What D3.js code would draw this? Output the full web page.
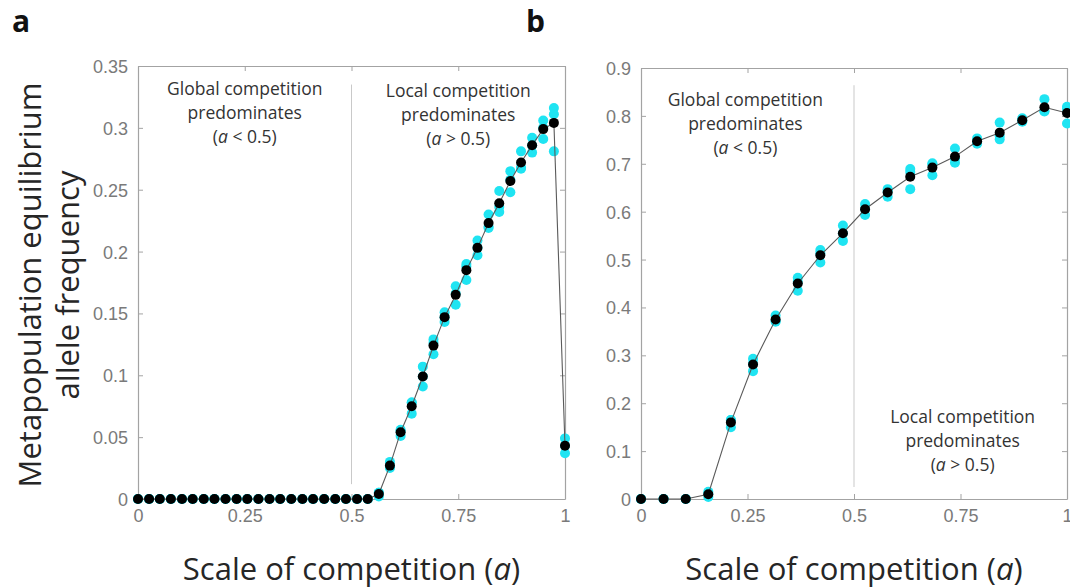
<!DOCTYPE html>
<html>
<head>
<meta charset="utf-8">
<script src="https://cdn.jsdelivr.net/npm/d3@7"></script>
<style>
  html, body { margin: 0; padding: 0; background: #fff; }
  svg { display: block; }
</style>
</head>
<body>
<svg id="fig" width="1070" height="588"></svg>
<script>
// ---- Panel a: 40 values of the competition scale ----
const aScale = [0, 0.026, 0.051, 0.077, 0.103, 0.128, 0.154, 0.179, 0.205, 0.231,
  0.256, 0.282, 0.308, 0.333, 0.359, 0.385, 0.410, 0.436, 0.462, 0.487,
  0.513, 0.538, 0.564, 0.590, 0.615, 0.641, 0.667, 0.692, 0.718, 0.744,
  0.769, 0.795, 0.821, 0.846, 0.872, 0.897, 0.923, 0.949, 0.974, 1];
const aMean = [0, 0, 0, 0, 0, 0, 0, 0, 0, 0, 0, 0, 0, 0, 0, 0, 0, 0, 0, 0, 0, 0,
  0.004, 0.027, 0.054, 0.075, 0.099, 0.124, 0.147, 0.165, 0.185, 0.203,
  0.223, 0.239, 0.257, 0.272, 0.286, 0.299, 0.304, 0.043];
const aRun1 = [0, 0, 0, 0, 0, 0, 0, 0, 0, 0, 0, 0, 0, 0, 0, 0, 0, 0, 0, 0, 0, 0,
  0.005, 0.030, 0.056, 0.078, 0.107, 0.129, 0.151, 0.172, 0.190, 0.209,
  0.230, 0.249, 0.265, 0.281, 0.292, 0.306, 0.316, 0.049];
const aRun2 = [0, 0, 0, 0, 0, 0, 0, 0, 0, 0, 0, 0, 0, 0, 0, 0, 0, 0, 0, 0, 0, 0,
  0.002, 0.025, 0.051, 0.069, 0.091, 0.117, 0.143, 0.157, 0.177, 0.197,
  0.219, 0.232, 0.248, 0.267, 0.280, 0.291, 0.281, 0.037];
const aRun3 = [0, 0, 0, 0, 0, 0, 0, 0, 0, 0, 0, 0, 0, 0, 0, 0, 0, 0, 0, 0, 0, 0,
  0.005, 0.026, 0.055, 0.078, 0.099, 0.126, 0.147, 0.166, 0.188, 0.203,
  0.220, 0.236, 0.258, 0.268, 0.286, 0.300, 0.311, 0.043];
const aYTicks = [0, 0.05, 0.1, 0.15, 0.2, 0.25, 0.3, 0.35];
const aYLabels = ["0", "0.05", "0.1", "0.15", "0.2", "0.25", "0.3", "0.35"];

// ---- Panel b: 20 values of the competition scale ----
const bScale = [0, 0.053, 0.105, 0.158, 0.211, 0.263, 0.316, 0.368, 0.421, 0.474,
  0.526, 0.579, 0.632, 0.684, 0.737, 0.789, 0.842, 0.895, 0.947, 1];
const bMean = [0, 0, 0, 0.010, 0.160, 0.281, 0.375, 0.450, 0.509, 0.555,
  0.605, 0.640, 0.673, 0.692, 0.715, 0.747, 0.765, 0.791, 0.818, 0.806];
const bRun1 = [0, 0, 0, 0.015, 0.165, 0.293, 0.383, 0.462, 0.520, 0.571,
  0.616, 0.647, 0.683, 0.701, 0.732, 0.753, 0.786, 0.795, 0.835, 0.819];
const bRun2 = [0, 0, 0, 0.004, 0.150, 0.267, 0.370, 0.435, 0.494, 0.539,
  0.593, 0.631, 0.647, 0.676, 0.702, 0.742, 0.751, 0.788, 0.809, 0.784];
const bRun3 = [0, 0, 0, 0.011, 0.165, 0.283, 0.372, 0.453, 0.513, 0.555,
  0.606, 0.642, 0.689, 0.699, 0.711, 0.746, 0.758, 0.790, 0.810, 0.815];
const bYTicks = [0, 0.1, 0.2, 0.3, 0.4, 0.5, 0.6, 0.7, 0.8, 0.9];
const bYLabels = ["0", "0.1", "0.2", "0.3", "0.4", "0.5", "0.6", "0.7", "0.8", "0.9"];

// shared x ticks
const xTicks = [0, 0.25, 0.5, 0.75, 1];
const xLabels = ["0", "0.25", "0.5", "0.75", "1"];

const svg = d3.select("#fig");
const AXIS = "#a3a3a3", TICKTXT = "#7a7a7a", CYAN = "#1fe4f2", TXT = "#262626";

function panel(opt) {
  const x = d3.scaleLinear().domain([0, 1]).range([opt.left, opt.right]);
  const y = d3.scaleLinear().domain([0, opt.ymax]).range([opt.bottom, opt.top]);
  const g = svg.append("g");

  // region divider at a = 0.5
  g.append("line")
    .attr("x1", x(0.5)).attr("x2", x(0.5))
    .attr("y1", y(opt.divider[0])).attr("y2", y(opt.divider[1]))
    .attr("stroke", "#c9c9c9").attr("stroke-width", 1);

  // axes with inward ticks on all four sides
  const tick = 5;
  const bottomAx = d3.axisBottom(x).tickValues(xTicks).tickFormat((d, i) => xLabels[i]).tickSizeInner(-tick).tickSizeOuter(0).tickPadding(10);
  const topAx = d3.axisTop(x).tickValues(xTicks).tickFormat("").tickSizeInner(-tick).tickSizeOuter(0);
  const leftAx = d3.axisLeft(y).tickValues(opt.yTicks).tickFormat((d, i) => opt.yLabels[i]).tickSizeInner(-tick).tickSizeOuter(0).tickPadding(10);
  const rightAx = d3.axisRight(y).tickValues(opt.yTicks).tickFormat("").tickSizeInner(-tick).tickSizeOuter(0);

  const axes = [
    g.append("g").attr("transform", `translate(0,${opt.bottom})`).call(bottomAx),
    g.append("g").attr("transform", `translate(0,${opt.top})`).call(topAx),
    g.append("g").attr("transform", `translate(${opt.left},0)`).call(leftAx),
    g.append("g").attr("transform", `translate(${opt.right},0)`).call(rightAx)
  ];
  axes.forEach(a => {
    a.select(".domain").attr("stroke", AXIS).attr("stroke-width", 1.2);
    a.selectAll(".tick line").attr("stroke", AXIS);
    a.selectAll(".tick text").attr("fill", TICKTXT)
      .style("font-family", "'Liberation Sans', Arial, sans-serif").style("font-size", "18px");
  });
  axes[0].selectAll(".tick text").attr("dy", "0.71em");
  axes[2].selectAll(".tick text").attr("dy", "0.36em");

  // replicate runs
  opt.runs.forEach(run => {
    g.append("g").selectAll("circle").data(run).join("circle")
      .attr("cx", (d, i) => x(opt.scale[i])).attr("cy", d => y(d))
      .attr("r", 5).attr("fill", CYAN);
  });

  // mean line and markers
  const line = d3.line().x((d, i) => x(opt.scale[i])).y(d => y(d));
  g.append("path").datum(opt.mean).attr("d", line)
    .attr("fill", "none").attr("stroke", "#5a5a5a").attr("stroke-width", 1.1);
  g.append("g").selectAll("circle").data(opt.mean).join("circle")
    .attr("cx", (d, i) => x(opt.scale[i])).attr("cy", d => y(d))
    .attr("r", 5).attr("fill", "#000");

  // regime annotations
  opt.notes.forEach(n => {
    const t = g.append("text").attr("text-anchor", "middle")
      .style("font-family", "'Open Sans', sans-serif").style("font-size", "17.5px").attr("fill", "#333");
    const cx = x(n.x), cy = y(n.y);
    t.append("tspan").attr("x", cx).attr("y", cy).text(n.lines[0]);
    t.append("tspan").attr("x", cx).attr("y", cy + 24).text(n.lines[1]);
    const l3 = t.append("tspan").attr("x", cx).attr("y", cy + 48);
    l3.append("tspan").text("(");
    l3.append("tspan").style("font-style", "italic").text("a");
    l3.append("tspan").text(n.lines[2]);
  });

  // x-axis title
  const xt = g.append("text").attr("x", (opt.left + opt.right) / 2).attr("y", 580)
    .attr("text-anchor", "middle").attr("fill", TXT)
    .style("font-family", "'Open Sans', sans-serif").style("font-size", "31px");
  xt.append("tspan").text("Scale of competition (");
  xt.append("tspan").style("font-style", "italic").text("a");
  xt.append("tspan").text(")");

  // panel letter
  svg.append("text").attr("x", opt.letterX).attr("y", 32).text(opt.letter)
    .attr("fill", "#111").style("font-family", "'Open Sans', sans-serif")
    .style("font-weight", "bold").style("font-size", "30px");
}

panel({
  left: 138, right: 565, top: 66, bottom: 499, ymax: 0.35,
  yTicks: aYTicks, yLabels: aYLabels,
  scale: aScale, mean: aMean, runs: [aRun1, aRun2, aRun3],
  divider: [0.012, 0.335],
  notes: [
    { x: 0.25, y: 0.3265, lines: ["Global competition", "predominates", " < 0.5)"] },
    { x: 0.75, y: 0.325, lines: ["Local competition", "predominates", " > 0.5)"] }
  ],
  letter: "a", letterX: 12
});

panel({
  left: 641, right: 1067, top: 68, bottom: 499, ymax: 0.9,
  yTicks: bYTicks, yLabels: bYLabels,
  scale: bScale, mean: bMean, runs: [bRun1, bRun2, bRun3],
  divider: [0.025, 0.864],
  notes: [
    { x: 0.245, y: 0.82, lines: ["Global competition", "predominates", " < 0.5)"] },
    { x: 0.755, y: 0.158, lines: ["Local competition", "predominates", " > 0.5)"] }
  ],
  letter: "b", letterX: 526
});

// shared y-axis title, two lines
const yTitle = svg.append("text").attr("transform", "translate(0,285) rotate(-90)")
  .attr("text-anchor", "middle").attr("fill", TXT)
  .style("font-family", "'Open Sans', sans-serif").style("font-size", "31px");
yTitle.append("tspan").attr("x", 0).attr("y", 41).text("Metapopulation equilibrium");
yTitle.append("tspan").attr("x", 0).attr("y", 79).text("allele frequency");
</script>
</body>
</html>
